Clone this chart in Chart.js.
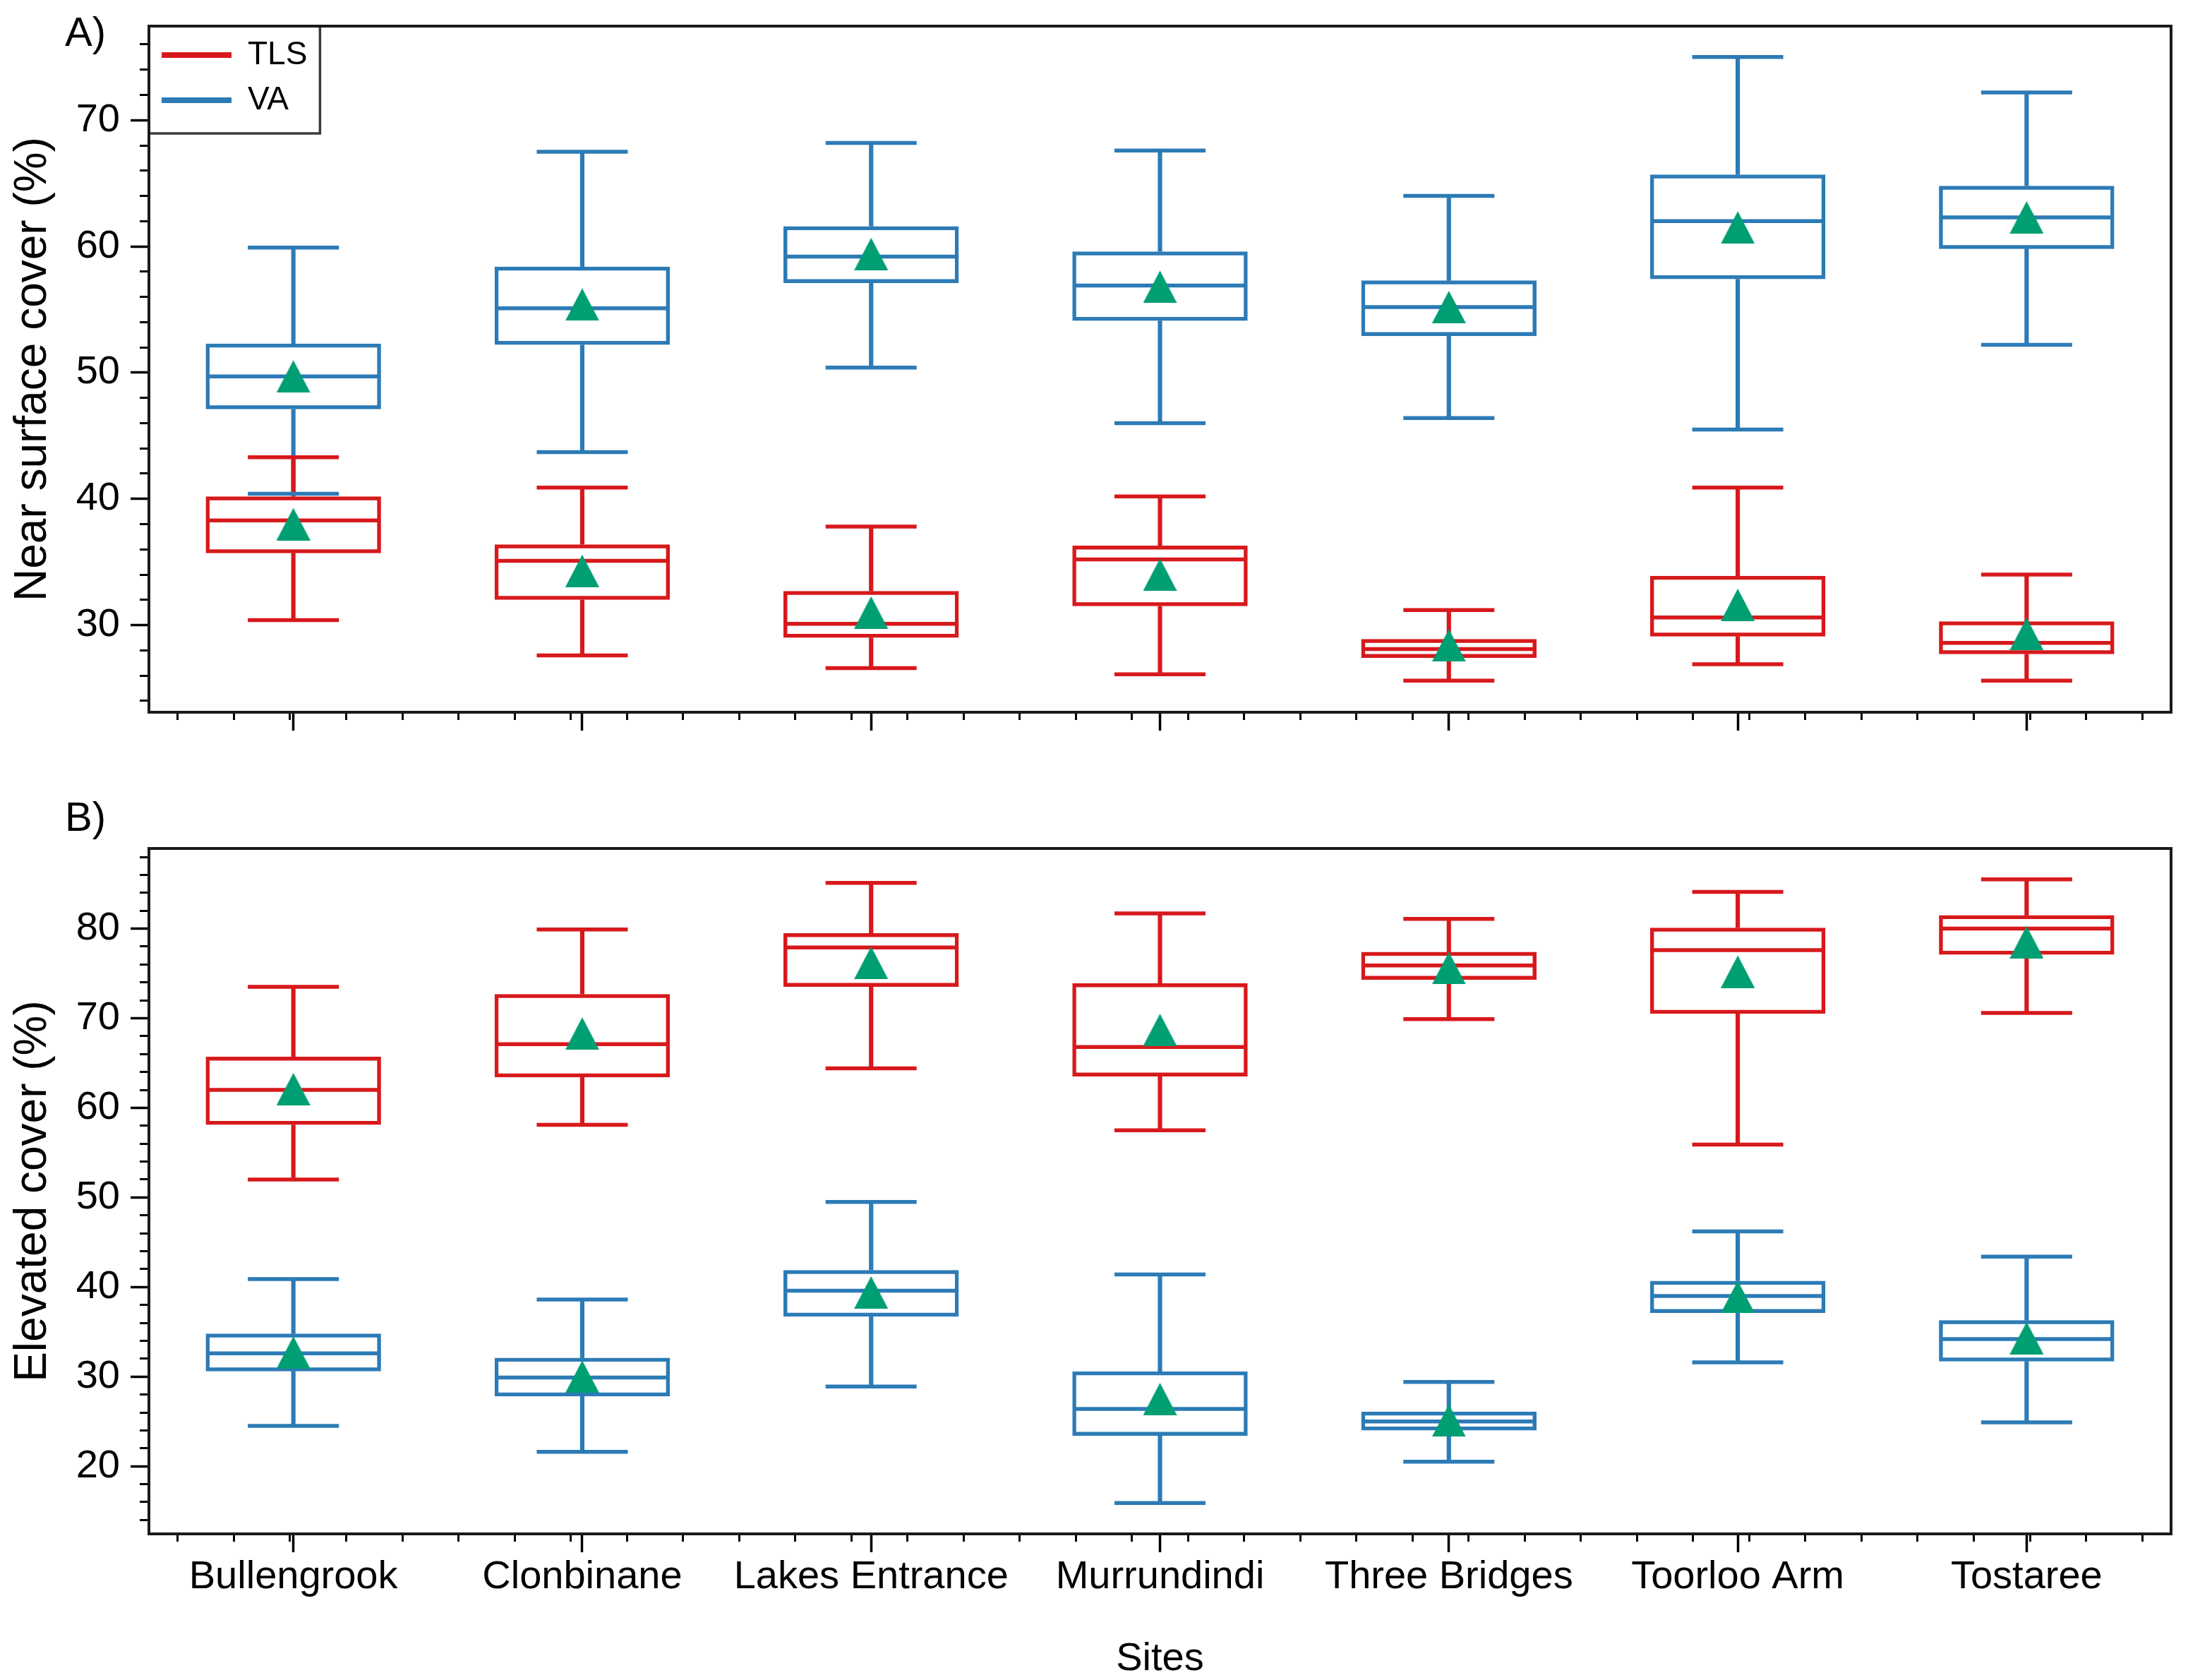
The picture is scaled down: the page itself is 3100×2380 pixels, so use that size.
<!DOCTYPE html>
<html>
<head>
<meta charset="utf-8">
<script src="https://cdn.jsdelivr.net/npm/chart.js@4.4.1/dist/chart.umd.min.js"></script>
<style>
  html, body { margin: 0; padding: 0; background: #fff; width: 3100px; height: 2380px; overflow: hidden; }
  canvas { position: absolute; left: 0; }
  .panel-label { position: absolute; font-family: 'Liberation Sans', Arial, Helvetica, sans-serif; font-size: 58px; line-height: 58px; color: #000; }
</style>
</head>
<body>
<canvas id="chartA" width="3100" height="1150" style="top:0;width:3100px;height:1150px"></canvas>
<canvas id="chartB" width="3100" height="1230" style="top:1150px;width:3100px;height:1230px"></canvas>
<div class="panel-label" style="left:92px;top:16px">A)</div>
<div class="panel-label" style="left:92px;top:1128px">B)</div>
<script>
// ---------------- DATA ----------------
const sites = ['Bullengrook', 'Clonbinane', 'Lakes Entrance', 'Murrundindi', 'Three Bridges', 'Toorloo Arm', 'Tostaree'];
const seriesNames = ['TLS', 'VA'];

// Panel A: Near surface cover (%)
const tlsNearMin  = [30.4, 27.6, 26.6, 26.1, 25.6, 26.9, 25.6];
const tlsNearQ1   = [35.7, 32.0, 29.0, 31.5, 27.4, 29.1, 27.7];
const tlsNearMed  = [38.3, 35.1, 30.1, 35.2, 28.1, 30.6, 28.6];
const tlsNearQ3   = [40.2, 36.4, 32.7, 36.3, 28.9, 33.9, 30.3];
const tlsNearMax  = [43.3, 40.9, 37.8, 40.2, 31.2, 40.9, 34.0];
const tlsNearMean = [38.0, 34.3, 31.0, 34.0, 28.4, 31.6, 29.3];

const vaNearMin   = [40.4, 43.7, 50.4, 46.0, 46.4, 45.5, 52.2];
const vaNearQ1    = [47.1, 52.2, 57.1, 54.1, 52.9, 57.4, 59.8];
const vaNearMed   = [49.7, 55.1, 59.2, 56.9, 55.2, 62.0, 62.3];
const vaNearQ3    = [52.3, 58.4, 61.6, 59.6, 57.3, 65.7, 64.8];
const vaNearMax   = [59.9, 67.5, 68.2, 67.6, 64.0, 75.0, 72.2];
const vaNearMean  = [49.7, 55.4, 59.4, 56.8, 55.2, 61.5, 62.3];

// Panel B: Elevated cover (%)
const tlsElevMin  = [52.0, 58.1, 64.4, 57.5, 69.9, 55.9, 70.6];
const tlsElevQ1   = [58.1, 63.4, 73.5, 63.5, 74.3, 70.5, 77.1];
const tlsElevMed  = [62.0, 67.1, 77.9, 66.8, 75.9, 77.6, 80.0];
const tlsElevQ3   = [65.7, 72.7, 79.5, 73.9, 77.4, 80.1, 81.5];
const tlsElevMax  = [73.5, 79.9, 85.1, 81.7, 81.1, 84.1, 85.5];
const tlsElevMean = [62.1, 68.3, 76.2, 68.7, 75.6, 75.2, 78.5];

const vaElevMin   = [24.5, 21.6, 28.9, 15.9, 20.5, 31.6, 24.9];
const vaElevQ1    = [30.6, 27.8, 36.7, 23.4, 24.0, 37.1, 31.7];
const vaElevMed   = [32.6, 29.9, 39.6, 26.4, 25.0, 39.0, 34.2];
const vaElevQ3    = [34.8, 32.1, 41.9, 30.6, 26.1, 40.7, 36.3];
const vaElevMax   = [40.9, 38.6, 49.5, 41.4, 29.4, 46.2, 43.4];
const vaElevMean  = [32.7, 30.0, 39.4, 27.5, 25.1, 38.9, 34.3];

// Axis ranges and ticks
const nearRange = [23.1, 77.45];
const elevRange = [12.45, 88.95];
const yMajorStep = 10;
const yMinorStep = 2;

// ---------------- STYLE ----------------
const FONT = "'Liberation Sans', Arial, Helvetica, sans-serif";
const TLS_COLOR = '#d7191c';
const VA_COLOR = '#2c7bb6';
const MEAN_COLOR = '#009e73';
const LW = 5.5;

Chart.defaults.font.family = FONT;
Chart.defaults.color = '#000';

function makeTriangle(w, h, color) {
  const c = document.createElement('canvas');
  c.width = w; c.height = h;
  const g = c.getContext('2d');
  g.fillStyle = color;
  g.beginPath();
  g.moveTo(w / 2, 0);
  g.lineTo(w, h);
  g.lineTo(0, h);
  g.closePath();
  g.fill();
  return c;
}
const triangle = makeTriangle(48, 46, MEAN_COLOR);

function buildDatasets(label, color, st) {
  const span = (a, b) => sites.map((_, i) => [a[i], b[i]]);
  const common = { xAxisID: 'x', yAxisID: 'y' };
  const pts = (name, data, radius, order, extra) => Object.assign({
    ...common, type: 'line', label: name, data, showLine: false, clip: false,
    pointStyle: 'line', pointRadius: radius, pointHoverRadius: radius,
    pointBorderWidth: LW, pointHoverBorderWidth: LW,
    pointBorderColor: color, pointBackgroundColor: color, order
  }, extra || {});
  return [
    { ...common, type: 'bar', label, data: span(st.q1, st.q3), backgroundColor: 'rgba(0,0,0,0)',
      borderColor: color, borderWidth: LW, borderSkipped: false, grouped: false,
      categoryPercentage: 1, barPercentage: 0.607, order: 6 },
    { ...common, type: 'bar', label: label + ' upper whisker', data: span(st.q3, st.max),
      backgroundColor: color, borderWidth: 0, barThickness: LW, grouped: false, order: 5 },
    { ...common, type: 'bar', label: label + ' lower whisker', data: span(st.min, st.q1),
      backgroundColor: color, borderWidth: 0, barThickness: LW, grouped: false, order: 5 },
    pts(label + ' max', st.max, 64.5, 4),
    pts(label + ' min', st.min, 64.5, 4),
    pts(label + ' median', st.med, 122, 3),
    pts(label + ' mean', st.mean, 24, 1, { pointStyle: triangle, pointBorderWidth: 0, pointHoverBorderWidth: 0 })
  ];
}

const LEGEND_PAD = 18;

const framePlugin = {
  id: 'frame',
  afterLayout(chart) {
    const lg = chart.legend;
    if (lg && lg.options.display) {
      lg.top = chart.chartArea.top;
      lg.bottom = lg.top + lg.height;
    }
  },
  beforeDraw(chart) {
    const ctx = chart.ctx;
    ctx.save();
    ctx.fillStyle = '#fff';
    ctx.fillRect(0, 0, chart.width, chart.height);
    ctx.restore();
  },
  afterDraw(chart) {
    const ctx = chart.ctx, ca = chart.chartArea;
    ctx.save();
    const lg = chart.legend;
    if (lg && lg.options.display && lg.legendHitBoxes && lg.legendHitBoxes.length) {
      const pad = lg.options.labels.padding;
      let r = 0, b = 0;
      lg.legendHitBoxes.forEach(h => { r = Math.max(r, h.left + h.width); b = Math.max(b, h.top + h.height); });
      ctx.strokeStyle = '#3a3a3a';
      ctx.lineWidth = 3.5;
      ctx.strokeRect(ca.left, ca.top, r + pad - ca.left, b + pad + 6 - ca.top);
    }
    ctx.strokeStyle = '#1a1a1a';
    ctx.lineWidth = 4;
    ctx.strokeRect(ca.left, ca.top, ca.right - ca.left, ca.bottom - ca.top);
    ctx.restore();
  }
};

function makeChart(id, cfg) {
  const tickFont = { size: 56, family: FONT };
  const datasets = [
    ...buildDatasets(seriesNames[0], TLS_COLOR, cfg.tls),
    ...buildDatasets(seriesNames[1], VA_COLOR, cfg.va)
  ];
  return new Chart(document.getElementById(id), {
    type: 'bar',
    data: { labels: sites, datasets },
    plugins: [framePlugin],
    options: {
      responsive: false,
      devicePixelRatio: 1,
      animation: false,
      events: [],
      layout: { autoPadding: false, padding: { left: 0, right: 24, top: cfg.padTop, bottom: 0 } },
      plugins: {
        tooltip: { enabled: false },
        title: { display: false },
        legend: {
          display: cfg.legend,
          position: 'chartArea',
          align: 'start',
          labels: {
            usePointStyle: true,
            pointStyleWidth: 99,
            padding: LEGEND_PAD,
            font: { size: 46, family: FONT },
            color: '#000',
            generateLabels: () => [
              { text: seriesNames[0], fillStyle: TLS_COLOR, strokeStyle: TLS_COLOR, lineWidth: 8, pointStyle: 'line', hidden: false, datasetIndex: 0, fontColor: '#000' },
              { text: seriesNames[1], fillStyle: VA_COLOR, strokeStyle: VA_COLOR, lineWidth: 8, pointStyle: 'line', hidden: false, datasetIndex: 7, fontColor: '#000' }
            ]
          }
        }
      },
      scales: {
        x: {
          type: 'category',
          position: 'bottom',
          weight: 1,
          offset: true,
          grid: { offset: false, drawOnChartArea: false, drawTicks: true, tickLength: 26, tickWidth: 3.5, tickColor: '#000' },
          border: { display: false },
          ticks: { display: cfg.xLabels, font: tickFont, color: '#000', padding: 2, autoSkip: false, maxRotation: 0, minRotation: 0 },
          title: { display: cfg.xLabels, text: 'Sites', font: { size: 56, family: FONT }, color: '#000', padding: { top: 0, bottom: -4 } },
          afterFit: s => { s.height = cfg.xHeight; s.paddingLeft = 0; s.paddingRight = 0; }
        },
        xm: {
          type: 'linear',
          position: 'bottom',
          weight: 0,
          min: -0.5,
          max: 6.5,
          grid: { drawOnChartArea: false, drawTicks: true, tickLength: 11, tickWidth: 3, tickColor: '#000' },
          border: { display: false },
          ticks: { display: false },
          afterBuildTicks: s => {
            const t = [];
            for (let k = -2; k <= 32; k++) t.push({ value: Math.round(k * 0.2 * 10) / 10 });
            s.ticks = t;
          },
          afterFit: s => { s.height = 0; s.paddingLeft = 0; s.paddingRight = 0; }
        },
        y: {
          type: 'linear',
          position: 'left',
          weight: 1,
          min: cfg.range[0],
          max: cfg.range[1],
          grid: { drawOnChartArea: false, drawTicks: true, tickLength: 26, tickWidth: 3.5, tickColor: '#000' },
          border: { display: false },
          ticks: { stepSize: yMajorStep, includeBounds: false, font: tickFont, color: '#000', padding: 15 },
          title: { display: true, text: cfg.yTitle, font: { size: 64, family: FONT }, color: '#000', padding: { top: 9, bottom: 0 } },
          afterFit: s => { s.width = 211; s.paddingTop = 0; s.paddingBottom = 0; }
        },
        ym: {
          type: 'linear',
          position: 'left',
          weight: 0,
          min: cfg.range[0],
          max: cfg.range[1],
          grid: { drawOnChartArea: false, drawTicks: true, tickLength: 13, tickWidth: 3, tickColor: '#000' },
          border: { display: false },
          ticks: { display: false, stepSize: yMinorStep, includeBounds: false },
          afterFit: s => { s.width = 0; s.paddingTop = 0; s.paddingBottom = 0; }
        }
      }
    }
  });
}

makeChart('chartA', {
  tls: { min: tlsNearMin, q1: tlsNearQ1, med: tlsNearMed, q3: tlsNearQ3, max: tlsNearMax, mean: tlsNearMean },
  va:  { min: vaNearMin,  q1: vaNearQ1,  med: vaNearMed,  q3: vaNearQ3,  max: vaNearMax,  mean: vaNearMean },
  range: nearRange,
  yTitle: 'Near surface cover (%)',
  legend: true,
  xLabels: false,
  padTop: 37,
  xHeight: 141
});

makeChart('chartB', {
  tls: { min: tlsElevMin, q1: tlsElevQ1, med: tlsElevMed, q3: tlsElevQ3, max: tlsElevMax, mean: tlsElevMean },
  va:  { min: vaElevMin,  q1: vaElevQ1,  med: vaElevMed,  q3: vaElevQ3,  max: vaElevMax,  mean: vaElevMean },
  range: elevRange,
  yTitle: 'Elevated cover (%)',
  legend: false,
  xLabels: true,
  padTop: 52,
  xHeight: 207
});
</script>
</body>
</html>
